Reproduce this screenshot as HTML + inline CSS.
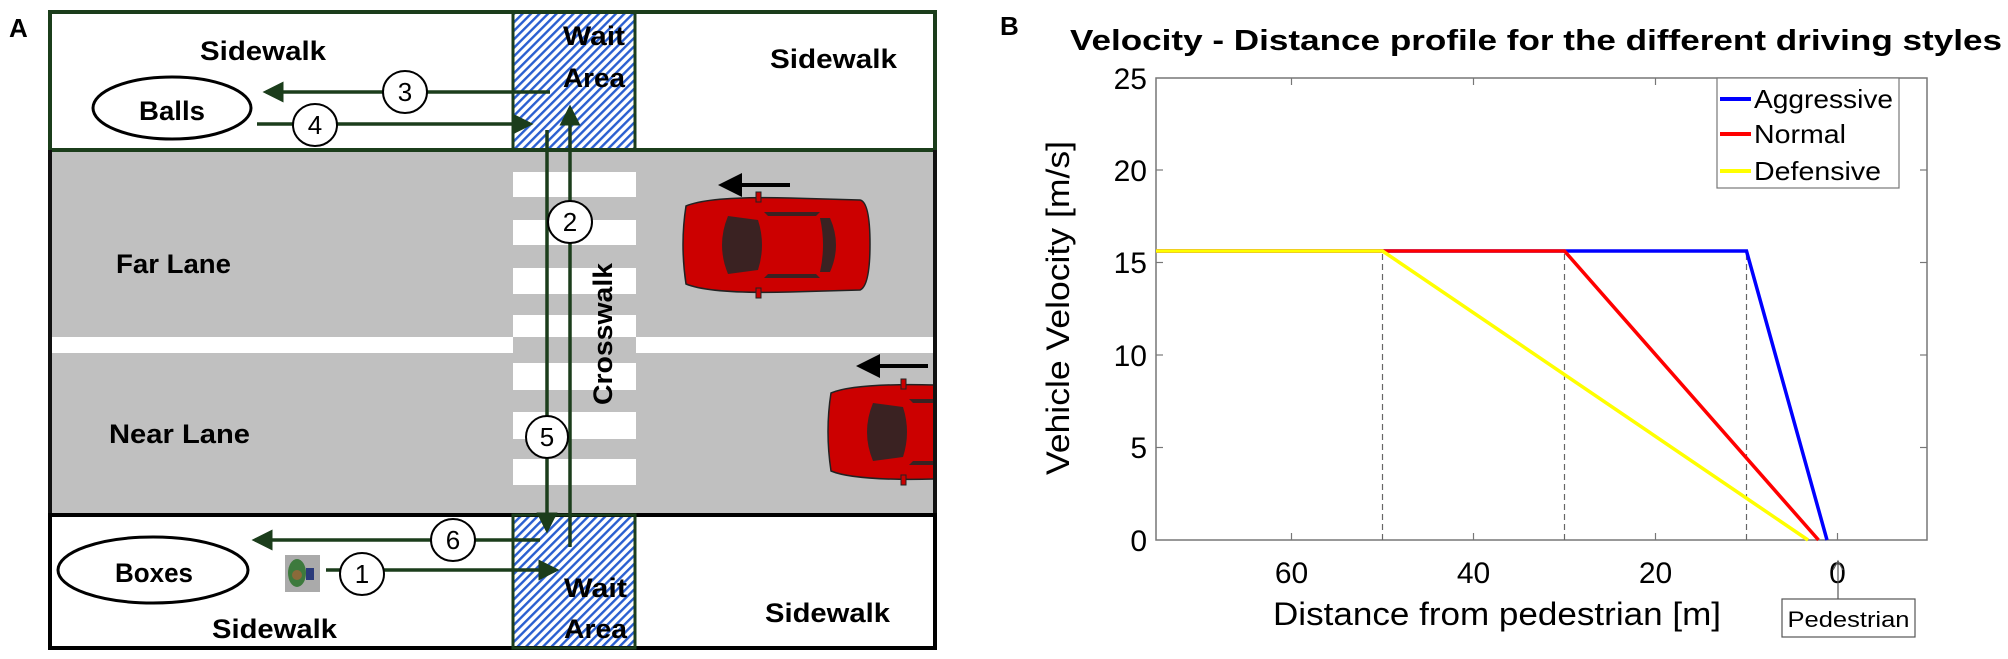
<!DOCTYPE html>
<html><head><meta charset="utf-8"><style>
html,body{margin:0;padding:0;background:#fff;}
svg{display:block;}
</style></head><body>
<svg width="2008" height="659" viewBox="0 0 2008 659" xmlns="http://www.w3.org/2000/svg" font-family="Liberation Sans, sans-serif">
<defs>
<pattern id="hatch" width="6" height="6" patternUnits="userSpaceOnUse" patternTransform="rotate(45)">
<rect width="6" height="6" fill="#fff"/>
<rect width="2.4" height="6" fill="#2a5fd0"/>
</pattern>
<clipPath id="road"><rect x="50" y="152" width="885" height="363"/></clipPath>
<marker id="ah" markerWidth="6" markerHeight="6" refX="5" refY="3" orient="auto" markerUnits="strokeWidth">
<path d="M0,0 L6,3 L0,6 z" fill="#1b3d1b"/>
</marker>
<marker id="ahk" markerWidth="6" markerHeight="6" refX="5" refY="3" orient="auto" markerUnits="strokeWidth">
<path d="M0,0 L6,3 L0,6 z" fill="#000"/>
</marker>
<g id="car">
<path d="M6,8 Q0,46 6,86 Q30,96 110,94 L180,92 Q190,88 190,46 Q190,4 180,2 L110,0 Q30,-2 6,8 z" fill="#cc0000" stroke="#222" stroke-width="1.5"/>
<path d="M48,18 Q36,47 48,76 L78,72 Q86,47 78,22 z" fill="#3a2222"/>
<path d="M140,20 L150,20 Q162,47 150,74 L140,74 Q146,47 140,20 z" fill="#3a2222"/>
<path d="M84,14 L140,14 L136,18 L88,18 z" fill="#3a2222"/>
<path d="M84,80 L140,80 L136,76 L88,76 z" fill="#3a2222"/>
<rect x="76" y="-6" width="5" height="10" fill="#cc0000" stroke="#222" stroke-width="1"/>
<rect x="76" y="90" width="5" height="10" fill="#cc0000" stroke="#222" stroke-width="1"/>
</g>
</defs>

<!-- Panel A -->
<text x="9" y="37" font-size="26" font-weight="bold">A</text>
<rect x="50" y="12" width="885" height="138" fill="#fff"/>
<rect x="50" y="152" width="885" height="363" fill="#c0c0c0"/>
<rect x="50" y="337" width="463" height="16" fill="#fff"/>
<rect x="636" y="337" width="299" height="16" fill="#fff"/>
<rect x="513" y="12" width="122" height="138" fill="url(#hatch)"/>
<rect x="513" y="515" width="122" height="133" fill="url(#hatch)"/>
<g fill="#fff">
<rect x="513" y="172" width="123" height="25"/>
<rect x="513" y="220" width="123" height="25"/>
<rect x="513" y="268" width="123" height="26"/>
<rect x="513" y="315" width="123" height="22"/>
<rect x="513" y="363" width="123" height="27"/>
<rect x="513" y="412" width="123" height="27"/>
<rect x="513" y="459" width="123" height="26"/>
</g>
<!-- cars -->
<g clip-path="url(#road)">
<use href="#car" transform="translate(680,198)"/>
<use href="#car" transform="translate(825,385)"/>
</g>
<line x1="790" y1="185" x2="722" y2="185" stroke="#000" stroke-width="4" marker-end="url(#ahk)"/>
<line x1="928" y1="366" x2="860" y2="366" stroke="#000" stroke-width="4" marker-end="url(#ahk)"/>

<rect x="50" y="12" width="885" height="138" fill="none" stroke="#1b3d1b" stroke-width="4"/>
<rect x="513" y="12" width="122" height="138" fill="none" stroke="#1b3d1b" stroke-width="3"/>
<line x1="50" y1="150" x2="50" y2="515" stroke="#111" stroke-width="4"/>
<line x1="935" y1="150" x2="935" y2="515" stroke="#111" stroke-width="4"/>
<rect x="50" y="515" width="885" height="133" fill="none" stroke="#000" stroke-width="4"/>
<rect x="513" y="515" width="122" height="133" fill="none" stroke="#1b3d1b" stroke-width="3"/>

<g font-weight="bold" font-size="27">
<text x="200" y="60" textLength="126" lengthAdjust="spacingAndGlyphs">Sidewalk</text>
<text x="770" y="68" textLength="127" lengthAdjust="spacingAndGlyphs">Sidewalk</text>
<text x="212" y="638" textLength="125" lengthAdjust="spacingAndGlyphs">Sidewalk</text>
<text x="765" y="622" textLength="125" lengthAdjust="spacingAndGlyphs">Sidewalk</text>
<text x="563" y="45" textLength="62" lengthAdjust="spacingAndGlyphs">Wait</text>
<text x="563" y="87" textLength="62" lengthAdjust="spacingAndGlyphs">Area</text>
<text x="564" y="597" textLength="63" lengthAdjust="spacingAndGlyphs">Wait</text>
<text x="564" y="638" textLength="63" lengthAdjust="spacingAndGlyphs">Area</text>
<text x="116" y="273" textLength="115" lengthAdjust="spacingAndGlyphs">Far Lane</text>
<text x="109" y="443" textLength="141" lengthAdjust="spacingAndGlyphs">Near Lane</text>
<text x="139" y="120" textLength="66" lengthAdjust="spacingAndGlyphs">Balls</text>
<text x="115" y="582" textLength="78" lengthAdjust="spacingAndGlyphs">Boxes</text>
<text transform="translate(612,405) rotate(-90)" textLength="142" lengthAdjust="spacingAndGlyphs">Crosswalk</text>
</g>
<ellipse cx="172" cy="108" rx="79" ry="31" fill="none" stroke="#000" stroke-width="3"/>
<ellipse cx="153" cy="570" rx="95" ry="33" fill="none" stroke="#000" stroke-width="3"/>

<!-- paths -->
<g stroke="#1b3d1b" stroke-width="3.5" fill="none">
<line x1="550" y1="92" x2="266" y2="92" marker-end="url(#ah)"/>
<line x1="257" y1="124" x2="530" y2="124" marker-end="url(#ah)"/>
<line x1="547" y1="130" x2="547" y2="530" marker-end="url(#ah)"/>
<line x1="570" y1="547" x2="570" y2="108" marker-end="url(#ah)"/>
<line x1="540" y1="540" x2="255" y2="540" marker-end="url(#ah)"/>
<line x1="326" y1="570" x2="556" y2="570" marker-end="url(#ah)"/>
</g>
<g fill="#fff" stroke="#000" stroke-width="2">
<ellipse cx="405" cy="92" rx="22" ry="21"/>
<ellipse cx="315" cy="125" rx="22" ry="21"/>
<ellipse cx="570" cy="222" rx="22" ry="21"/>
<ellipse cx="547" cy="437" rx="21" ry="21"/>
<ellipse cx="453" cy="540" rx="22" ry="21"/>
<ellipse cx="362" cy="574" rx="22" ry="21"/>
</g>
<g font-size="26" text-anchor="middle">
<text x="405" y="101">3</text>
<text x="315" y="134">4</text>
<text x="570" y="231">2</text>
<text x="547" y="446">5</text>
<text x="453" y="549">6</text>
<text x="362" y="583">1</text>
</g>
<!-- pedestrian -->
<rect x="285" y="555" width="35" height="37" fill="#aaa"/>
<ellipse cx="297" cy="573" rx="9" ry="14" fill="#3d7a3d"/>
<circle cx="297" cy="575" r="5" fill="#8a6a3a"/>
<rect x="306" y="568" width="8" height="12" fill="#2a3a7a"/>

<!-- Panel B -->
<text x="1000" y="35" font-size="26" font-weight="bold">B</text>
<text x="1070" y="50" font-size="29" font-weight="bold" textLength="932" lengthAdjust="spacingAndGlyphs">Velocity - Distance profile for the different driving styles</text>

<rect x="1156" y="78" width="771" height="462" fill="#fff" stroke="#777" stroke-width="1.5"/>
<g stroke="#777" stroke-width="1.2">
<line x1="1291.5" y1="540" x2="1291.5" y2="533"/><line x1="1473.5" y1="540" x2="1473.5" y2="533"/><line x1="1655.5" y1="540" x2="1655.5" y2="533"/><line x1="1837.5" y1="540" x2="1837.5" y2="533"/>
<line x1="1291.5" y1="78" x2="1291.5" y2="85"/><line x1="1473.5" y1="78" x2="1473.5" y2="85"/><line x1="1655.5" y1="78" x2="1655.5" y2="85"/><line x1="1837.5" y1="78" x2="1837.5" y2="85"/>
<line x1="1156" y1="447.5" x2="1163" y2="447.5"/><line x1="1156" y1="355" x2="1163" y2="355"/><line x1="1156" y1="262.5" x2="1163" y2="262.5"/><line x1="1156" y1="170" x2="1163" y2="170"/>
<line x1="1927" y1="447.5" x2="1920" y2="447.5"/><line x1="1927" y1="355" x2="1920" y2="355"/><line x1="1927" y1="262.5" x2="1920" y2="262.5"/><line x1="1927" y1="170" x2="1920" y2="170"/>
</g>
<g font-size="30" text-anchor="end">
<text x="1147" y="551">0</text>
<text x="1147" y="458">5</text>
<text x="1147" y="366">10</text>
<text x="1147" y="273">15</text>
<text x="1147" y="181">20</text>
<text x="1147" y="89">25</text>
</g>
<g font-size="30" text-anchor="middle">
<text x="1291.5" y="583">60</text>
<text x="1473.5" y="583">40</text>
<text x="1655.5" y="583">20</text>
<text x="1837.5" y="583">0</text>
</g>
<text x="1273" y="625" font-size="32" textLength="448" lengthAdjust="spacingAndGlyphs">Distance from pedestrian [m]</text>
<text transform="translate(1069,475) rotate(-90)" font-size="32" textLength="334" lengthAdjust="spacingAndGlyphs">Vehicle Velocity [m/s]</text>

<g stroke="#666" stroke-width="1.2" stroke-dasharray="6,4">
<line x1="1382.5" y1="540" x2="1382.5" y2="251"/>
<line x1="1564.5" y1="540" x2="1564.5" y2="251"/>
<line x1="1746.5" y1="540" x2="1746.5" y2="251"/>
</g>
<g fill="none" stroke-width="3.5">
<polyline points="1156,251 1746.5,251 1827,540" stroke="#0000ff"/>
<polyline points="1156,251 1564.5,251 1818.5,540" stroke="#ff0000"/>
<polyline points="1156,251 1382.5,251 1808,540" stroke="#ffff00"/>
</g>

<rect x="1717" y="78" width="182" height="110" fill="#fff" stroke="#777" stroke-width="1.2"/>
<line x1="1720" y1="99" x2="1751" y2="99" stroke="#0000ff" stroke-width="4"/>
<line x1="1720" y1="134" x2="1751" y2="134" stroke="#ff0000" stroke-width="4"/>
<line x1="1720" y1="171" x2="1751" y2="171" stroke="#ffff00" stroke-width="4"/>
<g font-size="26">
<text x="1754" y="108" textLength="139" lengthAdjust="spacingAndGlyphs">Aggressive</text>
<text x="1754" y="143" textLength="92" lengthAdjust="spacingAndGlyphs">Normal</text>
<text x="1754" y="180" textLength="127" lengthAdjust="spacingAndGlyphs">Defensive</text>
</g>
<line x1="1838" y1="599" x2="1838" y2="562" stroke="#555" stroke-width="1.2"/>
<path d="M1833,570 L1838,561 L1843,570" fill="none" stroke="#555" stroke-width="1.2"/>
<rect x="1782" y="599" width="133" height="38" fill="#fff" stroke="#555" stroke-width="1.2"/>
<text x="1848.5" y="627" font-size="22" text-anchor="middle" textLength="122" lengthAdjust="spacingAndGlyphs">Pedestrian</text>
</svg>
</body></html>
